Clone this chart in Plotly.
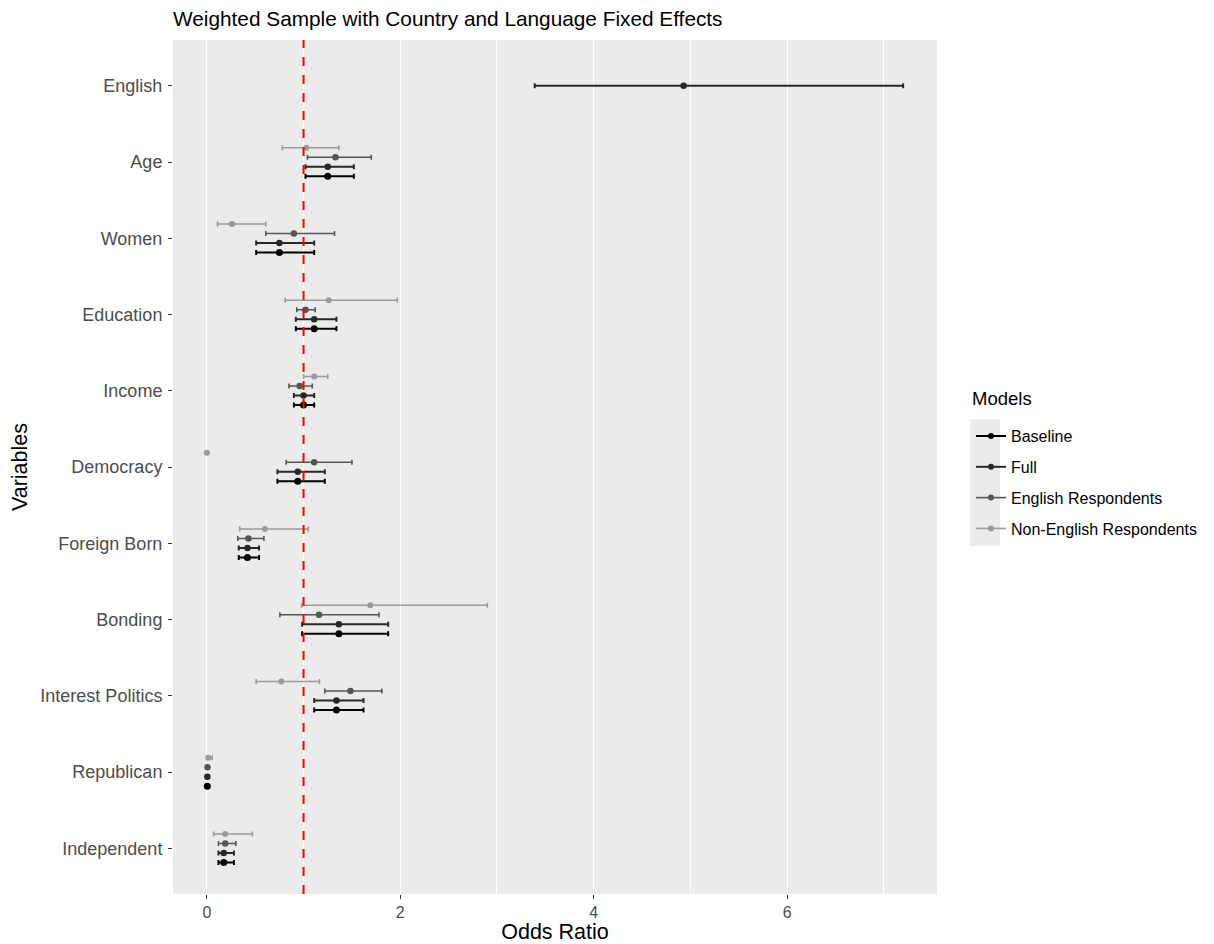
import plotly.graph_objects as go

variables = ["English", "Age", "Women", "Education", "Income", "Democracy",
             "Foreign Born", "Bonding", "Interest Politics", "Republican", "Independent"]

models = ["Baseline", "Full", "English Respondents", "Non-English Respondents"]

baseline_or = [None, 1.25, 0.75, 1.11, 1.00, 0.94, 0.42, 1.365, 1.34, 0.005, 0.175]
baseline_lo = [None, 1.02, 0.51, 0.92, 0.90, 0.73, 0.33, 0.985, 1.11, 0.0, 0.12]
baseline_hi = [None, 1.52, 1.11, 1.34, 1.11, 1.22, 0.54, 1.875, 1.62, 0.01, 0.28]

full_or = [4.93, 1.25, 0.75, 1.11, 1.00, 0.94, 0.42, 1.365, 1.34, 0.005, 0.175]
full_lo = [3.39, 1.02, 0.51, 0.92, 0.90, 0.73, 0.33, 0.985, 1.11, 0.0, 0.12]
full_hi = [7.20, 1.52, 1.11, 1.34, 1.11, 1.22, 0.54, 1.875, 1.62, 0.01, 0.28]

engresp_or = [None, 1.33, 0.90, 1.02, 0.96, 1.11, 0.43, 1.16, 1.485, 0.007, 0.19]
engresp_lo = [None, 1.04, 0.61, 0.93, 0.85, 0.82, 0.32, 0.755, 1.22, 0.0, 0.12]
engresp_hi = [None, 1.70, 1.32, 1.12, 1.09, 1.50, 0.59, 1.78, 1.81, 0.015, 0.30]

noneng_or = [None, 1.03, 0.26, 1.26, 1.11, 0.0, 0.60, 1.69, 0.77, 0.015, 0.19]
noneng_lo = [None, 0.78, 0.11, 0.81, 1.00, 0.0, 0.34, 0.98, 0.51, 0.0, 0.07]
noneng_hi = [None, 1.365, 0.61, 1.97, 1.25, 0.005, 1.05, 2.90, 1.165, 0.055, 0.47]

x_ticks = [0, 2, 4, 6]

series = {
    "Baseline": (baseline_or, baseline_lo, baseline_hi),
    "Full": (full_or, full_lo, full_hi),
    "English Respondents": (engresp_or, engresp_lo, engresp_hi),
    "Non-English Respondents": (noneng_or, noneng_lo, noneng_hi),
}

colors = {
    "Baseline": "rgb(0,0,0)",
    "Full": "rgb(40,40,40)",
    "English Respondents": "rgb(85,85,85)",
    "Non-English Respondents": "rgb(155,155,155)",
}
thick = {"Baseline": 2, "Full": 2, "English Respondents": 1.6, "Non-English Respondents": 1.6}
msize = {"Baseline": 7, "Full": 6.5, "English Respondents": 6.5, "Non-English Respondents": 6}

# dodge: width 0.5 across 4 groups, Non-English on top
dodge = {"Baseline": -0.1875, "Full": -0.0625, "English Respondents": 0.0625,
         "Non-English Respondents": 0.1875}

n = len(variables)
pos = {v: n - i for i, v in enumerate(variables)}
counts = [sum(1 for m in models if series[m][0][i] is not None) for i in range(n)]

fig = go.Figure()

for m in models:
    est, lo, hi = series[m]
    xs, ys, plus, minus = [], [], [], []
    for i, v in enumerate(variables):
        if est[i] is None:
            continue
        off = dodge[m] if counts[i] > 1 else 0.0
        xs.append(est[i])
        ys.append(pos[v] + off)
        plus.append(hi[i] - est[i])
        minus.append(est[i] - lo[i])
    fig.add_trace(go.Scatter(
        x=xs, y=ys, mode="markers", name=m, showlegend=False,
        marker=dict(color=colors[m], size=msize[m]),
        error_x=dict(type="data", symmetric=False, array=plus, arrayminus=minus,
                     color=colors[m], thickness=thick[m], width=2.5),
    ))

# legend keys (line + point)
for k, m in enumerate(models):
    fig.add_trace(go.Scatter(
        x=[None], y=[None], mode="lines+markers", name=m, legendgroup=m,
        line=dict(color=colors[m], width=thick[m]),
        marker=dict(color=colors[m], size=6),
    ))

fig.add_vline(x=1, line=dict(color="red", width=2, dash="dash"))

fig.add_shape(type="rect", xref="paper", yref="paper",
              x0=1.0432, x1=1.0825, y0=0.4077, y1=0.556,
              fillcolor="#ebebeb", line=dict(width=0), layer="below")

fig.add_annotation(text="Models", xref="paper", yref="paper",
                   x=1.0432, xanchor="left", y=0.5806, yanchor="middle",
                   showarrow=False, font=dict(size=18.5, color="black"))

font_family = "Liberation Sans, Arial, Helvetica, sans-serif"

W, H = 1206, 936

fig.update_layout(
    width=W, height=H,
    margin=dict(l=165, r=277, t=32, b=50, autoexpand=False),
    paper_bgcolor="white", plot_bgcolor="#ebebeb",
    font=dict(family=font_family, color="black"),
    title=dict(text="Weighted Sample with Country and Language Fixed Effects",
               x=165 / W, xanchor="left", y=1 - 11 / H, yanchor="middle",
               font=dict(size=20.8, color="black")),
    xaxis=dict(range=[-0.35, 7.55], tickvals=x_ticks, ticktext=[str(t) for t in x_ticks],
               showgrid=True, gridcolor="white", gridwidth=1.4,
               minor=dict(dtick=1, tick0=0, showgrid=True, gridcolor="white", gridwidth=0.7),
               zeroline=False, ticks="outside", ticklen=4, tickcolor="#333333", tickwidth=1.1,
               tickfont=dict(size=16, color="#4d4d4d"),
               title=dict(text="Odds Ratio", font=dict(size=21.5, color="black"), standoff=1)),
    yaxis=dict(range=[0.4, n + 0.6], tickvals=[pos[v] for v in variables], ticktext=variables,
               showgrid=False, zeroline=False, ticks="outside", ticklen=4,
               tickcolor="#333333", tickwidth=1.1, ticklabelstandoff=2,
               tickfont=dict(size=18, color="#4d4d4d"),
               title=dict(text="Variables", font=dict(size=21.5, color="black"), standoff=18)),
    legend=dict(x=(963 - 165) / 764, xanchor="left", y=(886 - 410) / 856, yanchor="top",
                bgcolor="rgba(0,0,0,0)", tracegroupgap=7, traceorder="grouped",
                font=dict(size=16, color="black")),
)

fig.write_html("out.html")
